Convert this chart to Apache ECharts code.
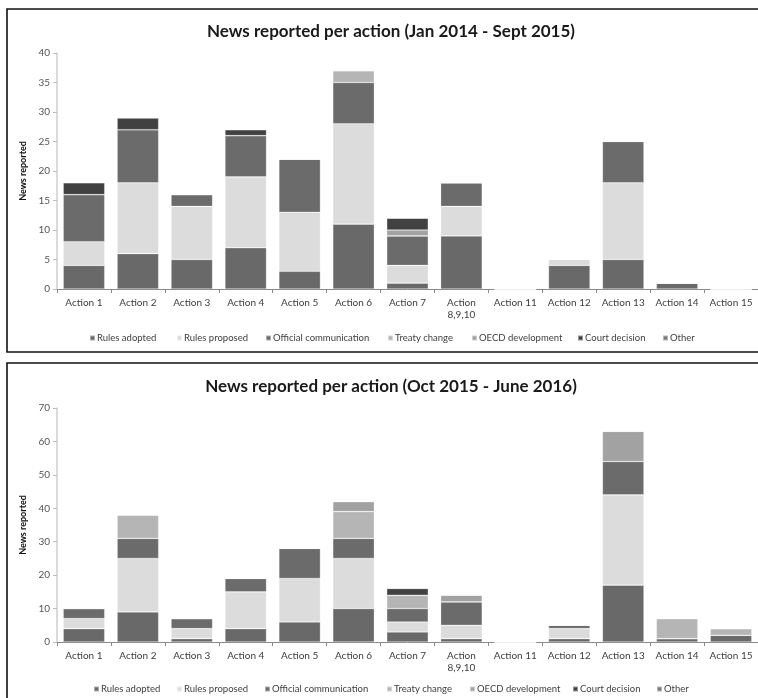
<!DOCTYPE html>
<html>
<head>
<meta charset="utf-8">
<script src="https://cdn.jsdelivr.net/npm/echarts@6/dist/echarts.min.js"></script>
<style>
  html, body { margin: 0; padding: 0; background: #fff; }
  #chart { width: 758px; height: 698px; }
</style>
</head>
<body>
<div id="chart"></div>
<script>
// BEPS actions (Action 8, 9 and 10 are grouped into one column)
const categories = ['Action 1', 'Action 2', 'Action 3', 'Action 4', 'Action 5', 'Action 6', 'Action 7',
  'Action\n8,9,10', 'Action 11', 'Action 12', 'Action 13', 'Action 14', 'Action 15'];

const seriesNames = ['Rules adopted', 'Rules proposed', 'Official communication', 'Treaty change',
  'OECD development', 'Court decision', 'Other'];

// Period 1: Jan 2014 - Sept 2015
const adoptedP1  = [4, 6, 5, 7, 3, 11, 1, 9, 0, 4, 5, 1, 0];
const proposedP1 = [4, 12, 9, 12, 10, 17, 3, 5, 0, 1, 13, 0, 0];
const officialP1 = [8, 9, 2, 7, 9, 7, 5, 4, 0, 0, 7, 0, 0];
const treatyP1   = [0, 0, 0, 0, 0, 2, 0, 0, 0, 0, 0, 0, 0];
const oecdP1     = [0, 0, 0, 0, 0, 0, 1, 0, 0, 0, 0, 0, 0];
const courtP1    = [2, 2, 0, 1, 0, 0, 2, 0, 0, 0, 0, 0, 0];
const otherP1    = [0, 0, 0, 0, 0, 0, 0, 0, 0, 0, 0, 0, 0];

// Period 2: Oct 2015 - June 2016
const adoptedP2  = [4, 9, 1, 4, 6, 10, 3, 1, 0, 1, 17, 1, 2];
const proposedP2 = [3, 16, 3, 11, 13, 15, 3, 4, 0, 3, 27, 0, 0];
const officialP2 = [3, 6, 3, 4, 9, 6, 4, 7, 0, 1, 10, 0, 0];
const treatyP2   = [0, 7, 0, 0, 0, 8, 4, 0, 0, 0, 0, 6, 2];
const oecdP2     = [0, 0, 0, 0, 0, 3, 0, 2, 0, 0, 9, 0, 0];
const courtP2    = [0, 0, 0, 0, 0, 0, 2, 0, 0, 0, 0, 0, 0];
const otherP2    = [0, 0, 0, 0, 0, 0, 0, 0, 0, 0, 0, 0, 0];

const titles = ['News reported per action (Jan 2014 - Sept 2015)', 'News reported per action (Oct 2015 - June 2016)'];
const yMax = [40, 70];
const yStep = [5, 10];

const periods = [
  [adoptedP1, proposedP1, officialP1, treatyP1, oecdP1, courtP1, otherP1],
  [adoptedP2, proposedP2, officialP2, treatyP2, oecdP2, courtP2, otherP2]
];

const palette = ['#696969', '#dcdcdc', '#6b6b6b', '#b5b5b5', '#a2a2a2', '#414141', '#7b7b7b'];
const FONT = 'Lato, "Open Sans", sans-serif';

// panel geometry
const panels = [
  { top: 9,   gridTop: 53,  gridH: 236, titleY: 18,  legendY: 333,
    legendX: [89, 176, 265, 387, 471, 577, 662] },
  { top: 363, gridTop: 408, gridH: 234, titleY: 373, legendY: 684,
    legendX: [93, 176, 264, 386, 469, 572, 656] }
];

const option = {
  animation: false,
  color: palette,
  title: [],
  legend: [],
  grid: [],
  xAxis: [],
  yAxis: [],
  series: [],
  graphic: []
};

panels.forEach((p, k) => {
  option.graphic.push({
    type: 'rect', silent: true,
    shape: { x: 7, y: p.top, width: 800, height: 343 },
    style: { fill: 'none', stroke: '#111', lineWidth: 1.6 }
  });
  option.title.push({
    text: titles[k], left: 386, top: p.titleY, textAlign: 'center',
    textStyle: { fontFamily: FONT, fontSize: 17, fontWeight: 'bold', color: '#1a1a1a' }
  });
  seriesNames.forEach((name, i) => {
    option.legend.push({
      data: [name], left: p.legendX[i], top: p.legendY, padding: 0,
      icon: 'rect', itemWidth: 5, itemHeight: 5, itemGap: 0,
      textStyle: { fontFamily: FONT, fontSize: 9.5, color: '#404040', padding: [0, 0, 0, -3] },
      selectedMode: false
    });
  });
  option.grid.push({ left: 57, top: p.gridTop, width: 706, height: p.gridH });
  option.xAxis.push({
    type: 'category', gridIndex: k, data: categories,
    axisLine: { lineStyle: { color: '#8a8a8a', width: 1 } },
    axisTick: { show: true, length: 4, lineStyle: { color: '#8a8a8a' } },
    axisLabel: { fontFamily: FONT, fontSize: 10, color: '#404040', margin: 8, lineHeight: 12, interval: 0 }
  });
  option.yAxis.push({
    type: 'value', gridIndex: k, min: 0, max: yMax[k], interval: yStep[k],
    name: 'News reported', nameLocation: 'middle', nameGap: 27, nameRotate: 90,
    nameTextStyle: { fontFamily: FONT, fontSize: 9, fontWeight: 'bold', color: '#111' },
    axisLine: { show: true, lineStyle: { color: '#cfcfcf', width: 1.5 } },
    axisTick: { show: true, length: 4, lineStyle: { color: '#bdbdbd' } },
    splitLine: { show: false },
    axisLabel: { fontFamily: FONT, fontSize: 10, color: '#555', margin: 7 }
  });
  periods[k].forEach((values, i) => {
    option.series.push({
      name: seriesNames[i], type: 'bar', stack: 'p' + k,
      xAxisIndex: k, yAxisIndex: k,
      data: values, barWidth: '77%',
      itemStyle: { color: palette[i], borderColor: 'rgba(255,255,255,0.45)', borderWidth: 0.6 }
    });
  });
});

const chart = echarts.init(document.getElementById('chart'), null, { renderer: 'canvas' });
chart.setOption(option);
</script>
</body>
</html>
